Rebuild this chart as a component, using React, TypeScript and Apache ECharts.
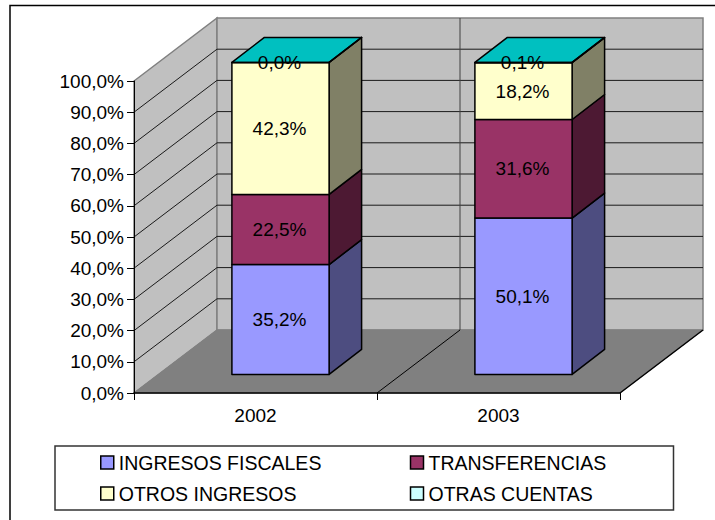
import React, { useEffect, useRef } from "react";
import * as echarts from "echarts";

const years = ["2002", "2003"];
const yTicks = [0, 10, 20, 30, 40, 50, 60, 70, 80, 90, 100];
const ingresosFiscales = [35.2, 50.1];
const transferencias = [22.5, 31.6];
const otrosIngresos = [42.3, 18.2];
const otrasCuentas = [0.0, 0.1];

const seriesNames = ["INGRESOS FISCALES", "TRANSFERENCIAS", "OTROS INGRESOS", "OTRAS CUENTAS"];
const seriesValues = [ingresosFiscales, transferencias, otrosIngresos, otrasCuentas];
const frontColors = ["#9999FF", "#993366", "#FFFFCC", "#CCFFFF"];
const sideColors = ["#4D4D80", "#4D1933", "#808066", "#668080"];
const topColors = ["#7A7ACC", "#7A2952", "#CCCCA3", "#00C0C0"];

const FONT = "Liberation Sans";
const DX = 83;
const DY = -63;
const BAR_SHIFT_X = 25;
const BAR_SHIFT_Y = -18.6;
const BAR_DX = 32.5;
const BAR_DY = -25;
const BAR_RATIO = 0.4;

const fmt = (v: number) => v.toFixed(1).replace(".", ",") + "%";

function renderWalls(_params: any, api: any) {
  const band = api.size([1, 0])[0];
  const [cx0, y0] = api.coord([0, 0]);
  const y100 = api.coord([0, 100])[1];
  const left = cx0 - band / 2;
  const right = left + band * years.length;
  const children: any[] = [];
  const wall = { fill: "#C0C0C0", stroke: "#808080", lineWidth: 1.5 };
  children.push({
    type: "polygon",
    shape: { points: [[left, y100], [left + DX, y100 + DY], [left + DX, y0 + DY], [left, y0]] },
    style: wall,
  });
  children.push({
    type: "rect",
    shape: { x: left + DX, y: y100 + DY, width: band * years.length, height: y0 - y100 },
    style: wall,
  });
  children.push({
    type: "polygon",
    shape: { points: [[left, y0], [left + DX, y0 + DY], [right + DX, y0 + DY], [right, y0]] },
    style: { fill: "#808080", stroke: "#808080", lineWidth: 1 },
  });
  yTicks.slice(1, -1).forEach((t) => {
    const y = api.coord([0, t])[1];
    children.push({
      type: "polyline",
      shape: { points: [[left, y], [left + DX, y + DY], [right + DX, y + DY]] },
      style: { fill: null, stroke: "#1a1a1a", lineWidth: 1 },
    });
  });
  years.slice(1).forEach((_, i) => {
    const x = left + band * (i + 1);
    children.push({
      type: "line",
      shape: { x1: x + DX, y1: y100 + DY, x2: x + DX, y2: y0 + DY },
      style: { stroke: "#404040", lineWidth: 1 },
    });
    children.push({
      type: "line",
      shape: { x1: x, y1: y0, x2: x + DX, y2: y0 + DY },
      style: { stroke: "#000", lineWidth: 1 },
    });
  });
  children.push({
    type: "line",
    shape: { x1: right, y1: y0, x2: right + DX, y2: y0 + DY },
    style: { stroke: "#000", lineWidth: 1.5 },
  });
  return { type: "group", children };
}

function makeBarRenderer(si: number) {
  return (_params: any, api: any) => {
    const cat = api.value(0);
    const base = api.value(1);
    const top = api.value(2);
    const val = api.value(3);
    const band = api.size([1, 0])[0];
    const w = band * BAR_RATIO;
    const [cx, yb] = api.coord([cat, base]);
    const yt = api.coord([cat, top])[1];
    const x0 = cx + BAR_SHIFT_X - w / 2;
    const x1 = x0 + w;
    const y0 = yb + BAR_SHIFT_Y;
    const y1 = yt + BAR_SHIFT_Y;
    const edge = { stroke: "#000", lineWidth: 1.5, lineJoin: "round" };
    const children: any[] = [];
    if (si === seriesNames.length - 1) {
      children.push({
        type: "polygon",
        shape: { points: [[x0, y1], [x0 + BAR_DX, y1 + BAR_DY], [x1 + BAR_DX, y1 + BAR_DY], [x1, y1]] },
        style: { fill: topColors[si], ...edge },
      });
    }
    children.push({
      type: "polygon",
      shape: { points: [[x1, y0], [x1 + BAR_DX, y0 + BAR_DY], [x1 + BAR_DX, y1 + BAR_DY], [x1, y1]] },
      style: { fill: sideColors[si], ...edge },
    });
    children.push({
      type: "rect",
      shape: { x: x0, y: y1, width: w, height: y0 - y1 },
      style: { fill: frontColors[si], ...edge },
    });
    children.push({
      type: "text",
      style: {
        text: fmt(val),
        x: (x0 + x1) / 2 - 1,
        y: (y0 + y1) / 2,
        align: "center",
        verticalAlign: "middle",
        fontFamily: FONT,
        fontSize: 19,
        fill: "#000",
      },
    });
    return { type: "group", children };
  };
}

export default function App() {
  const ref = useRef<HTMLDivElement>(null);
  useEffect(() => {
    const chart = echarts.init(ref.current!, undefined, { renderer: "svg" });
    const barSeries = seriesNames.map((name, si) => ({
      type: "custom",
      name,
      clip: false,
      z: 3,
      color: frontColors[si],
      itemStyle: { color: frontColors[si] },
      renderItem: makeBarRenderer(si),
      encode: { x: 0, y: [1, 2] },
      data: years.map((_, c) => {
        const base = seriesValues.slice(0, si).reduce((s, a) => s + a[c], 0);
        return [c, base, base + seriesValues[si][c], seriesValues[si][c]];
      }),
    }));
    chart.setOption({
      animation: false,
      backgroundColor: "#fff",
      textStyle: { fontFamily: FONT },
      graphic: [
        {
          type: "rect",
          z: -1,
          shape: { x: 10, y: 5.5, width: 800, height: 600 },
          style: { fill: "#fff", stroke: "#000", lineWidth: 1.5 },
        },
      ],
      grid: { left: 134, right: 95, top: 81, bottom: 127, containLabel: false },
      xAxis: {
        type: "category",
        data: years,
        z: 5,
        axisLine: { lineStyle: { color: "#000", width: 1.5 } },
        axisTick: { show: true, length: 7, alignWithLabel: false, lineStyle: { color: "#000", width: 1 } },
        axisLabel: { color: "#000", fontFamily: FONT, fontSize: 19, margin: 13 },
        splitLine: { show: false },
      },
      yAxis: {
        type: "value",
        min: 0,
        max: 100,
        interval: 10,
        z: 5,
        axisLine: { show: true, lineStyle: { color: "#000", width: 1 } },
        axisTick: { show: true, length: 7, lineStyle: { color: "#000", width: 1 } },
        axisLabel: { color: "#000", fontFamily: FONT, fontSize: 19, margin: 10, formatter: (v: number) => fmt(v) },
        splitLine: { show: false },
      },
      legend: {
        left: 55,
        top: 446,
        width: 630,
        padding: [1, 0, 1, 45],
        itemGap: 0,
        itemWidth: 13,
        itemHeight: 13,
        icon: "rect",
        backgroundColor: "#fff",
        borderColor: "#333",
        borderWidth: 1.5,
        selectedMode: false,
        itemStyle: { borderColor: "#000", borderWidth: 1.5 },
        textStyle: { color: "#000", fontFamily: FONT, fontSize: 19.5, lineHeight: 31, padding: [0, 0, 0, 0] },
        data: seriesNames.map((name, i) => ({
          name,
          textStyle: { fontSize: 19.5, width: i % 2 === 0 ? 291 : 245, height: 31, lineHeight: 31 },
        })),
      },
      series: [
        {
          type: "custom",
          name: "Fondo",
          clip: false,
          z: 1,
          silent: true,
          renderItem: renderWalls,
          encode: { x: 0, y: 1 },
          data: [[0, 0]],
        },
        ...barSeries,
      ],
    });
    return () => chart.dispose();
  }, []);
  return (
    <div
      ref={ref}
      style={{ position: "absolute", left: 0, top: 0, width: 715, height: 520, overflow: "hidden" }}
    />
  );
}
